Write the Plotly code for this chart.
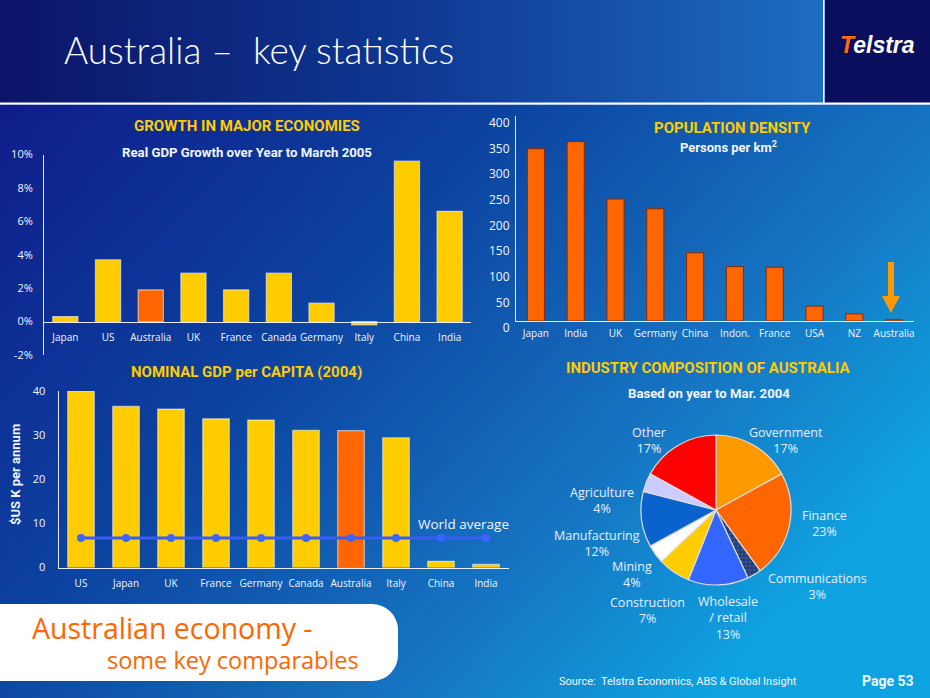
import base64
import plotly.graph_objects as go

W, H = 930, 698

# ---------------- data ----------------
growth_countries = ["Japan", "US", "Australia", "UK", "France", "Canada", "Germany", "Italy", "China", "India"]
growth_values = [0.3, 3.7, 1.9, 2.9, 1.9, 2.9, 1.1, -0.2, 9.6, 6.6]
growth_ticks = [-2, 0, 2, 4, 6, 8, 10]
growth_ticktext = ["-2%", "0%", "2%", "4%", "6%", "8%", "10%"]

density_countries = ["Japan", "India", "UK", "Germany", "China", "Indon.", "France", "USA", "NZ", "Australia"]
density_values = [336, 350, 238, 219, 133, 106, 105, 29, 14, 2.5]

gdppc_countries = ["US", "Japan", "UK", "France", "Germany", "Canada", "Australia", "Italy", "China", "India"]
gdppc_values = [40.0, 36.5, 35.9, 33.7, 33.4, 31.1, 31.0, 29.4, 1.4, 0.7]
world_average = [6.7, 6.7, 6.7, 6.7, 6.7, 6.7, 6.7, 6.7, 6.7, 6.7]

industry_labels = ["Government", "Finance", "Communications", "Wholesale / retail", "Construction",
                   "Mining", "Manufacturing", "Agriculture", "Other"]
industry_values = [17, 23, 3, 13, 7, 4, 12, 4, 17]

# ---------------- styles ----------------
YELLOW = "#ffcc00"
ORANGE = "#ff6600"
WHITE = "#f2f6ff"
FONT = "Open Sans"
TFONT = "Roboto"
industry_colors = ["#ff9900", "#ff6600", "#8f8f8f", "#3366ff", "#ffcc00",
                   "#ffffff", "#0a62cc", "#ccccff", "#ff0000"]
industry_patterns = ["", "", ".", "", "", "", "", "", ""]
# label block centres (pixels) for pie labels
industry_label_pos = [(786, 441), (824, 523), (817, 586), (728, 618), (647, 610),
                      (632, 574), (597, 543), (602, 500), (649, 440)]


def px(x):
    return x / W


def py(y):
    return 1 - y / H


def hl(names, base, hi):
    return [hi if n == "Australia" else base for n in names]


# ---------------- background (decoration) ----------------
svg = """<svg xmlns='http://www.w3.org/2000/svg' width='930' height='698' viewBox='0 0 930 698' preserveAspectRatio='none'>
<defs>
<linearGradient id='body' x1='0' y1='0' x2='1' y2='0.6'>
<stop offset='0' stop-color='#0f1c8a'/>
<stop offset='0.4' stop-color='#0c42a0'/>
<stop offset='0.75' stop-color='#1674c2'/>
<stop offset='1' stop-color='#0fa2e0'/>
</linearGradient>
<linearGradient id='head' x1='0' y1='0' x2='1' y2='0'>
<stop offset='0' stop-color='#0b1468'/>
<stop offset='0.5' stop-color='#0f3892'/>
<stop offset='1' stop-color='#1d6cc2'/>
</linearGradient>
</defs>
<rect x='0' y='0' width='930' height='698' fill='#0c3c9c'/>
<rect x='0' y='104' width='930' height='594' fill='url(#body)'/>
<rect x='0' y='0' width='824' height='103' fill='url(#head)'/>
<rect x='825' y='0' width='105' height='103' fill='#0a0e5c'/>
<rect x='823' y='0' width='1.6' height='103' fill='#ffffff'/>
<rect x='0' y='102.5' width='930' height='2.2' fill='#ffffff'/>
<rect x='-40' y='604' width='438' height='77' rx='26' fill='#ffffff'/>
</svg>"""
bg_src = "data:image/svg+xml;base64," + base64.b64encode(svg.encode()).decode()

fig = go.Figure()

# ---------------- growth chart ----------------
fig.add_trace(go.Bar(
    x=growth_countries, y=growth_values, xaxis="x2", yaxis="y2", width=0.59,
    marker=dict(color=hl(growth_countries, YELLOW, ORANGE),
                line=dict(color="rgba(255,255,255,0.55)", width=1.2)),
    hoverinfo="skip", showlegend=False))

# ---------------- population density ----------------
fig.add_trace(go.Bar(
    x=density_countries, y=density_values, xaxis="x3", yaxis="y3", width=0.43,
    marker=dict(color=ORANGE, line=dict(color="#8a2a00", width=1)),
    hoverinfo="skip", showlegend=False))

# ---------------- GDP per capita ----------------
fig.add_trace(go.Bar(
    x=gdppc_countries, y=gdppc_values, xaxis="x4", yaxis="y4", width=0.59,
    marker=dict(color=hl(gdppc_countries, YELLOW, ORANGE),
                line=dict(color="rgba(255,255,255,0.55)", width=1.2)),
    hoverinfo="skip", showlegend=False))
fig.add_trace(go.Scatter(
    x=gdppc_countries, y=world_average, xaxis="x4", yaxis="y4", mode="lines+markers",
    line=dict(color="#3a5cf2", width=3), marker=dict(color="#3a66ff", size=8),
    hoverinfo="skip", showlegend=False))

# ---------------- industry pie ----------------
fig.add_trace(go.Pie(
    labels=industry_labels, values=industry_values, sort=False, direction="clockwise",
    rotation=0, textinfo="none", hoverinfo="skip", showlegend=False,
    domain=dict(x=[px(641), px(791)], y=[py(585), py(435)]),
    marker=dict(colors=industry_colors, line=dict(color="#dddddd", width=1.2),
                pattern=dict(shape=industry_patterns, fgcolor="#555555", size=4, solidity=0.45))))

# ---------------- axes ----------------
g_dom = [py(355), py(154.5)]
g_rng = [-2, 10]
g_zero = g_dom[0] + (0 - g_rng[0]) / (g_rng[1] - g_rng[0]) * (g_dom[1] - g_dom[0])

axis_common = dict(showgrid=False, zeroline=False, ticks="", fixedrange=True, automargin=False)
tickc = "rgba(255,255,255,0.9)"

fig.update_layout(
    width=W, height=H, margin=dict(l=0, r=0, t=0, b=0, pad=0, autoexpand=False),
    paper_bgcolor="#0c3c9c", plot_bgcolor="rgba(0,0,0,0)",
    font=dict(family=FONT, color=WHITE),
    images=[dict(source=bg_src, xref="paper", yref="paper", x=0, y=1, sizex=1, sizey=1,
                 xanchor="left", yanchor="top", sizing="stretch", layer="below")],
    xaxis2=dict(domain=[px(44), px(471)], range=[-0.5, 9.5], anchor="free", position=g_zero,
                showline=True, linecolor=tickc, linewidth=1, type="category",
                tickfont=dict(size=10, color=WHITE), ticklabelstandoff=6, **axis_common),
    yaxis2=dict(domain=g_dom, range=g_rng, anchor="x2", tickmode="array", tickvals=growth_ticks,
                ticktext=growth_ticktext, showline=True, linecolor=tickc, linewidth=1,
                tickfont=dict(size=11, color=WHITE), ticklabelstandoff=8, **axis_common),
    xaxis3=dict(domain=[px(516), px(914)], range=[-0.5, 9.5], anchor="y3", type="category",
                showline=True, linecolor=tickc, linewidth=1,
                tickfont=dict(size=10, color=WHITE), ticklabelstandoff=3, **axis_common),
    yaxis3=dict(domain=[py(321), py(116)], range=[0, 400], anchor="x3", dtick=50,
                showline=True, linecolor=tickc, linewidth=1, ticklabelshift=7,
                tickfont=dict(size=12, color=WHITE), ticklabelstandoff=3, **axis_common),
    xaxis4=dict(domain=[px(58.5), px(508.5)], range=[-0.5, 9.5], anchor="y4", type="category",
                showline=True, linecolor=tickc, linewidth=1,
                tickfont=dict(size=10, color=WHITE), ticklabelstandoff=6, **axis_common),
    yaxis4=dict(domain=[py(567.5), py(391)], range=[0, 40], anchor="x4", dtick=10,
                showline=True, linecolor=tickc, linewidth=1,
                tickfont=dict(size=11, color=WHITE), ticklabelstandoff=10, **axis_common),
)

# ---------------- annotations ----------------
ann = []


def text(x, y, s, size, color=WHITE, family=FONT, weight="normal", xanchor="center", angle=0):
    ann.append(dict(x=px(x), y=py(y), xref="paper", yref="paper", text=s, showarrow=False,
                    xanchor=xanchor, yanchor="middle", textangle=angle,
                    font=dict(size=size, color=color, family=family, weight=weight)))


# header
text(62, 50, "Australia \u2013\u00a0 key statistics", 37, color="#ffffff", family="Lato", weight=300, xanchor="left")
text(877, 45, "<i><span style='color:#ff6a13'>T</span>elstra</i>", 23, color="#ffffff", family="Liberation Sans", weight="bold")

# chart titles
text(247, 126, "GROWTH IN MAJOR ECONOMIES", 15, color=YELLOW, family=TFONT, weight="bold")
text(247, 152, "Real GDP Growth over Year to March 2005", 13.2, family=TFONT, weight="bold")
text(732, 128, "POPULATION DENSITY", 15, color=YELLOW, family=TFONT, weight="bold")
text(728, 147, "Persons per km<sup>2</sup>", 13, family=TFONT, weight="bold")
text(247, 372, "NOMINAL GDP per CAPITA (2004)", 15, color=YELLOW, family=TFONT, weight="bold")
text(708, 368, "INDUSTRY COMPOSITION OF AUSTRALIA", 15, color=YELLOW, family=TFONT, weight="bold")
text(709, 393, "Based on year to Mar. 2004", 13.2, family=TFONT, weight="bold")

# GDP per capita extras
text(15, 475, "$US K per annum", 13, family=TFONT, weight="bold", angle=-90)
text(463, 524, "World average", 13.5)

# pie labels
for lab, val, (lx, ly) in zip(industry_labels, industry_values, industry_label_pos):
    text(lx, ly, lab.replace(" / ", "<br>/ ") + "<br>" + f"{val}%", 12.5, color="#e8f0ff")

# bottom box text and footer
text(30, 628, "Australian economy -", 28.5, color=ORANGE, xanchor="left")
text(105, 660, "some key comparables", 23.5, color=ORANGE, xanchor="left")
text(557, 681, "Source:  Telstra Economics, ABS &amp; Global Insight", 11, family=TFONT, xanchor="left")
text(860, 681, "Page 53", 14, family=TFONT, weight="bold", xanchor="left")

fig.update_layout(annotations=ann)

# arrow pointing at Australia (decoration)
arrow_pts = [(888, 262), (894, 262), (894, 296), (900, 296), (891, 313), (882, 296), (888, 296)]
path = "M " + " L ".join(f"{px(x):.5f},{py(y):.5f}" for x, y in arrow_pts) + " Z"
fig.add_shape(type="path", path=path, xref="paper", yref="paper",
              fillcolor="#ff9900", line=dict(width=0), layer="above")

fig.write_html(
    "out.html",
    config={"displayModeBar": False},
    post_script=("document.body.style.margin='0';document.body.style.padding='0';"
                 "document.body.style.overflow='hidden';"
                 "var d=document.getElementById('{plot_id}');"
                 "d.style.position='fixed';d.style.left='0px';d.style.top='0px';"),
)
